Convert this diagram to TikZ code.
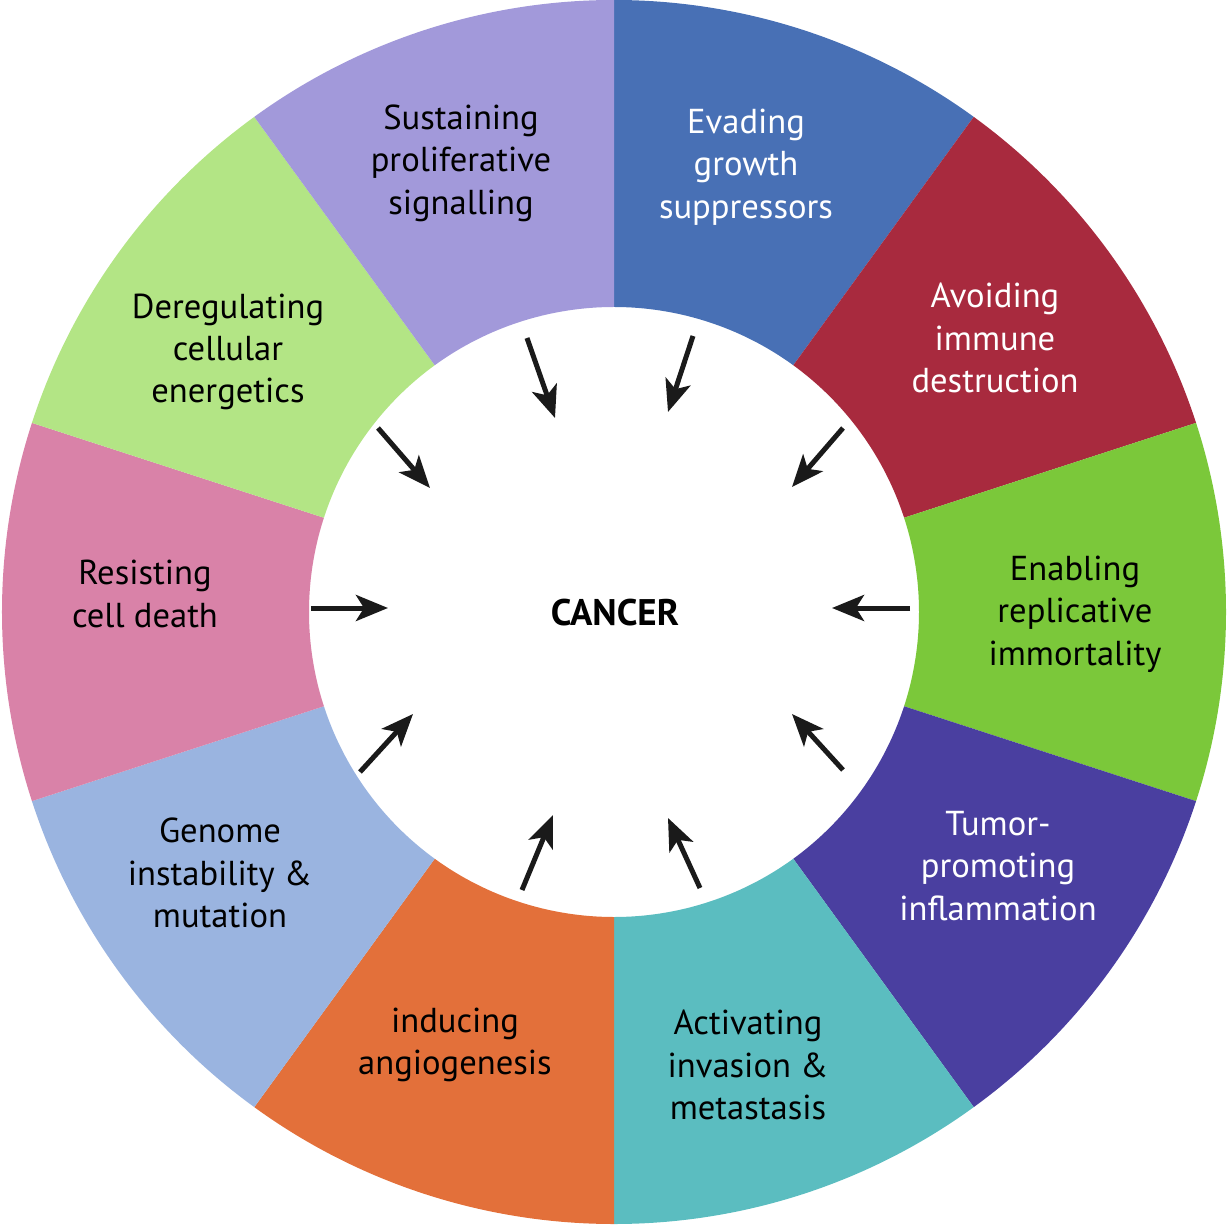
\documentclass[tikz,border=0pt]{standalone}
\usepackage{fontspec}
\setmainfont{PT Sans}
\usetikzlibrary{arrows.meta}
\definecolor{cLav}{HTML}{A299DA}
\definecolor{cBlue}{HTML}{4870B5}
\definecolor{cRed}{HTML}{A82A3E}
\definecolor{cGreen}{HTML}{7BC83A}
\definecolor{cPurple}{HTML}{4A3FA0}
\definecolor{cTeal}{HTML}{5BBDC0}
\definecolor{cOrange}{HTML}{E3703A}
\definecolor{cLBlue}{HTML}{9AB4E0}
\definecolor{cPink}{HTML}{D982A8}
\definecolor{cLGreen}{HTML}{B3E585}
\definecolor{cArrow}{HTML}{1A1A1A}
\begin{document}
\begin{tikzpicture}[x=0.5pt,y=0.5pt,
  lbl/.style={align=center,font=\fontsize{17.3}{21.2}\selectfont,inner sep=0pt},
  inarrow/.style={draw=cArrow,line width=2.5pt,-{Stealth[length=16pt,width=13pt,inset=4pt]}}]
\useasboundingbox (-614,-613) rectangle (615,612);
\def\rin{305}\def\rout{612}
\newcommand{\seg}[3]{\fill[#3] (#1:\rin) arc[start angle=#1,end angle=#2,radius=\rin] -- (#2:\rout) arc[start angle=#2,end angle=#1,radius=\rout] -- cycle;}
\seg{90}{54}{cBlue}
\seg{54}{18}{cRed}
\seg{18}{-18}{cGreen}
\seg{-18}{-54}{cPurple}
\seg{-54}{-90}{cTeal}
\seg{-90}{-126}{cOrange}
\seg{-126}{-162}{cLBlue}
\seg{-162}{-198}{cPink}
\seg{162}{126}{cLGreen}
\seg{126}{90}{cLav}
\node[lbl] (sps) at (-153,449) {Sustaining\\proliferative\\signalling};
\node[lbl,text=white] (egs) at (132,445) {Evading\\growth\\suppressors};
\node[lbl,text=white] (aid) at (381,274) {Avoiding\\immune\\destruction};
\node[lbl] (eri) at (461,-2) {Enabling\\replicative\\immortality};
\node[lbl,text=white] (tpi) at (384,-254) {Tumor-\\promoting\\inflammation};
\node[lbl] (aim) at (134,-453) {Activating\\invasion \&\\metastasis};
\node[lbl] (ia) at (-159,-433) {inducing\\angiogenesis};
\node[lbl] (gim) at (-394,-261) {Genome\\instability \&\\mutation};
\node[lbl] (rcd) at (-469,18) {Resisting\\cell death};
\node[lbl] (dce) at (-386,260) {Deregulating\\cellular\\energetics};
\node[lbl,font=\fontsize{18.5}{21}\selectfont\bfseries] (cancer) at (1,-1) {CANCER};
\coordinate (s1) at (-87,274); \coordinate (e1) at (-59,194);
\coordinate (s2) at (79,276);  \coordinate (e2) at (54,200);
\coordinate (s3) at (229,184); \coordinate (e3) at (178,125);
\coordinate (s4) at (296,4);   \coordinate (e4) at (218,4);
\coordinate (s5) at (229,-158); \coordinate (e5) at (178,-102);
\coordinate (s6) at (86,-276); \coordinate (e6) at (54,-206);
\coordinate (s7) at (-92,-278); \coordinate (e7) at (-61,-203);
\coordinate (s8) at (-254,-160); \coordinate (e8) at (-201,-102);
\coordinate (s9) at (-303,4);  \coordinate (e9) at (-226,4);
\coordinate (s10) at (-236,184); \coordinate (e10) at (-184,124);
\foreach \i in {1,...,10} {\draw[inarrow] (s\i) -- (e\i);}
\end{tikzpicture}
\end{document}
